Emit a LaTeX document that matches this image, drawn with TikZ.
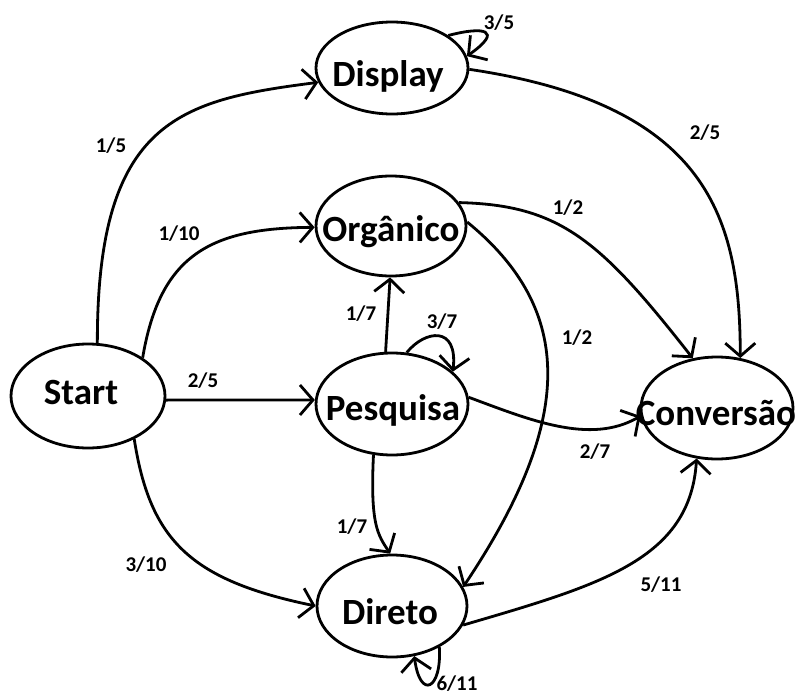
\documentclass[tikz,border=0pt]{standalone}
\usepackage{fontspec}
\setmainfont{Carlito}
\usetikzlibrary{shapes.geometric,arrows.meta}
\begin{document}
\begin{tikzpicture}[x=1pt,y=-1pt,
  state/.style={draw, ellipse, line width=2.8pt, inner sep=0pt},
  stxt/.style={font=\bfseries\fontsize{37}{42}\selectfont, inner sep=0pt},
  lbl/.style={font=\bfseries\fontsize{21}{25}\selectfont, inner sep=0pt},
  edge/.style={line width=2.8pt, -{Straight Barb[length=13pt,width=30pt]}}]
\useasboundingbox (0,0) rectangle (798,696);
% states
\node[state, minimum width=154pt, minimum height=104pt] (start) at (88,396) {};
\node[state, minimum width=152pt, minimum height=92pt] (disp) at (392,68) {};
\node[state, minimum width=150pt, minimum height=100pt] (org) at (391,226) {};
\node[state, minimum width=152pt, minimum height=102pt] (pesq) at (392,404) {};
\node[state, minimum width=150pt, minimum height=102pt] (dir) at (392,606) {};
\node[state, minimum width=152pt, minimum height=102pt] (conv) at (717,408) {};
% state texts
\node[stxt] (start-t) at (81,392) {Start};
\node[stxt] (disp-t) at (388,76) {Display};
\node[stxt] (org-t) at (391,232) {Orgânico};
\node[stxt] (pesq-t) at (393,410) {Pesquisa};
\node[stxt] (dir-t) at (390,612) {Direto};
\node[stxt] (conv-t) at (716,413) {Conversão};
% edges
\draw[edge] (start.80) .. controls (97,120) and (180,100) .. (disp.191);
\draw[edge] (start.35) .. controls (160,255) and (210,228) .. (org.181);
\draw[edge] (start.-3) -- (pesq.177);
\draw[edge] (start.-43) .. controls (150,540) and (190,580) .. (dir.180);
\draw[edge] (disp.30) .. controls (484,26) and (504,30) .. (disp.9);
\draw[edge] (disp.-1) .. controls (710,105) and (740,220) .. (conv.65);
\draw[edge] (org.19) .. controls (560,205) and (600,240) .. (conv.116);
\draw[edge] (org.3) .. controls (575,310) and (575,420) .. (dir.15);
\draw[edge] (pesq.97) -- (org.-91);
\draw[edge] (pesq.74) .. controls (425,330) and (458,325) .. (pesq.28);
\draw[edge] (pesq.5) .. controls (530,420) and (590,445) .. (conv.186);
\draw[edge] (pesq.-110) .. controls (370,525) and (378,535) .. (dir.92);
\draw[edge] (dir.-15) .. controls (600,585) and (690,560) .. (conv.-112);
\draw[edge] (dir.-41) .. controls (442,690) and (420,700) .. (dir.-66);
% labels
\node[lbl] (l1) at (111,146) {1/5};
\node[lbl] (l2) at (179,234) {1/10};
\node[lbl] (l3) at (203,381) {2/5};
\node[lbl] (l4) at (146,565) {3/10};
\node[lbl] (l5) at (499,23) {3/5};
\node[lbl] (l6) at (705,133) {2/5};
\node[lbl] (l7) at (568,208) {1/2};
\node[lbl] (l8) at (577,338) {1/2};
\node[lbl] (l9) at (361,314) {1/7};
\node[lbl] (l10) at (442,322) {3/7};
\node[lbl] (l11) at (595,452) {2/7};
\node[lbl] (l12) at (352,527) {1/7};
\node[lbl] (l13) at (661,585) {5/11};
\node[lbl] (l14) at (457,684) {6/11};
\end{tikzpicture}
\end{document}
